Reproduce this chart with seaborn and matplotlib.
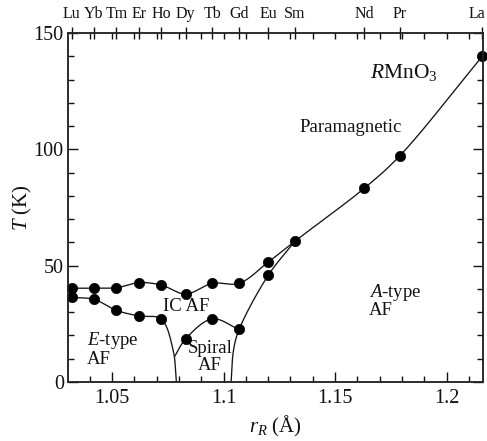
import numpy as np
import pandas as pd
import matplotlib
matplotlib.use("Agg")
import matplotlib.pyplot as plt
import matplotlib.transforms as mtransforms
from matplotlib.ticker import MultipleLocator, FixedLocator
import seaborn as sns

# Ionic radii of the rare-earth ions R (Å) and their names
elements = ["Lu", "Yb", "Tm", "Er", "Ho", "Dy", "Tb", "Gd", "Eu", "Sm", "Nd", "Pr", "La"]
radii = [1.032, 1.042, 1.052, 1.062, 1.072, 1.083, 1.095, 1.107, 1.120, 1.132, 1.163, 1.179, 1.216]

# Néel temperature (paramagnetic -> AF), one value per R
t_neel = [40.3, 40.3, 40.5, 42.7, 41.7, 37.8, 42.4, 42.4, 51.5, 60.5, 83.2, 97.2, 140.0]

# E-type lock-in transition (Lu..Ho) and its boundary down to T = 0
lock_r = [1.032, 1.042, 1.052, 1.062, 1.072]
lock_T = [36.4, 35.5, 30.8, 28.4, 27.1]
lock_tail_r = [1.0774, 1.0789]
lock_tail_T = [13.8, 0.0]

# Spiral AF transition (Dy, Tb, Gd)
spiral_r = [1.083, 1.095, 1.107]
spiral_T = [18.5, 27.1, 22.6]
spiral_start_r = [1.0781]
spiral_start_T = [11.0]

# A-type boundary from T = 0 through Gd, Eu up to Sm
atype_r = [1.107, 1.120]
atype_T = [22.6, 45.8]
atype_base_r = [1.1034, 1.1045]
atype_base_T = [0.0, 13.8]

XLIM = (1.0303, 1.2163)
YLIM = (0, 150)


def smooth(xs, ys, n=40):
    """Centripetal Catmull-Rom curve through the given points."""
    sx = 415.0 / (XLIM[1] - XLIM[0])
    sy = 349.0 / (YLIM[1] - YLIM[0])
    P = np.column_stack([(np.asarray(xs) - XLIM[0]) * sx, np.asarray(ys) * sy])
    P = np.vstack([2 * P[0] - P[1], P, 2 * P[-1] - P[-2]])
    segs = []
    for i in range(1, len(P) - 2):
        p0, p1, p2, p3 = P[i - 1:i + 3]
        t0 = 0.0
        t1 = t0 + np.linalg.norm(p1 - p0) ** 0.5
        t2 = t1 + np.linalg.norm(p2 - p1) ** 0.5
        t3 = t2 + np.linalg.norm(p3 - p2) ** 0.5
        t = np.linspace(t1, t2, n)[:, None]
        a1 = (t1 - t) / (t1 - t0) * p0 + (t - t0) / (t1 - t0) * p1
        a2 = (t2 - t) / (t2 - t1) * p1 + (t - t1) / (t2 - t1) * p2
        a3 = (t3 - t) / (t3 - t2) * p2 + (t - t2) / (t3 - t2) * p3
        b1 = (t2 - t) / (t2 - t0) * a1 + (t - t0) / (t2 - t0) * a2
        b2 = (t3 - t) / (t3 - t1) * a2 + (t - t1) / (t3 - t1) * a3
        c = (t2 - t) / (t2 - t1) * b1 + (t - t1) / (t2 - t1) * b2
        segs.append(c if i == 1 else c[1:])
    C = np.vstack(segs)
    return C[:, 0] / sx + XLIM[0], C[:, 1] / sy


sns.set_style("ticks")
plt.rcParams.update({
    "font.family": ["Liberation Serif", "DejaVu Serif"],
    "mathtext.fontset": "custom",
    "mathtext.rm": "Liberation Serif",
    "mathtext.it": "Liberation Serif:italic",
    "mathtext.bf": "Liberation Serif:bold",
    "axes.linewidth": 1.1,
    "text.color": "#111111",
    "axes.labelcolor": "#111111",
    "xtick.color": "#111111",
    "ytick.color": "#111111",
})

fig = plt.figure(figsize=(4.87, 4.41), dpi=100)
ax = fig.add_axes([0.1396, 0.1338, 0.8522, 0.7914])

line_kw = dict(color="#151515", linewidth=0.95, sort=False, estimator=None, ax=ax)

curves = [
    (radii, t_neel),
    (lock_r + lock_tail_r, lock_T + lock_tail_T),
    (spiral_start_r + spiral_r, spiral_start_T + spiral_T),
    (atype_base_r + atype_r + [radii[9]], atype_base_T + atype_T + [t_neel[9]]),
]
for xs, ys in curves:
    cx, cy = smooth(xs, ys)
    sns.lineplot(x=cx, y=cy, **line_kw)

pts = pd.DataFrame({
    "r": radii + lock_r + spiral_r + atype_r[1:],
    "T": t_neel + lock_T + spiral_T + atype_T[1:],
})
sns.scatterplot(data=pts, x="r", y="T", s=55, color="black", edgecolor="black",
                linewidth=0.5, zorder=4, clip_on=False, ax=ax)

ax.set_xlim(*XLIM)
ax.set_ylim(*YLIM)
ax.set_xticks([1.05, 1.10, 1.15, 1.20])
ax.set_xticklabels(["1.05", "1.1", "1.15", "1.2"])
ax.xaxis.set_minor_locator(MultipleLocator(0.01))
ax.set_yticks([0, 50, 100, 150])
ax.yaxis.set_minor_locator(MultipleLocator(10))
ax.tick_params(which="both", direction="in", top=False, right=True, width=1.0,
               labelsize=14.5, colors="#111111")
ax.tick_params(which="major", length=7)
ax.tick_params(which="minor", length=4)
ax.tick_params(axis="x", which="major", pad=5)
ax.tick_params(axis="y", which="major", pad=3)

ax.set_xlabel(r"$r_R$ (Å)", fontsize=15, labelpad=4)
ax.set_ylabel(r"$T$ (K)", fontsize=15)
ax.yaxis.set_label_coords(-0.083, 0.5)

# Top axis: rare-earth ions at their radii
top = ax.twiny()
top.set_xlim(*XLIM)
top.xaxis.set_major_locator(FixedLocator(radii))
top.set_xticklabels(elements)
top.xaxis.set_minor_locator(MultipleLocator(0.01))
top.tick_params(which="major", direction="inout", length=8, width=1.0,
                labelsize=11.5, pad=4, colors="#111111")
top.tick_params(which="minor", direction="in", length=4, width=1.0)
for s in top.spines.values():
    s.set_linewidth(1.1)
# keep the last ion name inside the canvas
last = top.get_xticklabels()[-1]
last.set_transform(last.get_transform() +
                   mtransforms.ScaledTranslation(-5 / 100, 0, fig.dpi_scale_trans))

# Phase labels
txt = dict(fontsize=13.5, color="#111111")
ax.text(1.1655, 130.5, r"$R$MnO$_3$", fontsize=15.5, color="#111111")
ax.text(1.1339, 109.5, "Paramagnetic", va="center", **txt)
ax.text(1.0727, 32.4, "IC AF", va="center", **txt)
ax.text(1.0388, 14.2, r"$E$-type" + "\nAF", va="center", linespacing=0.95, **txt)
ax.text(1.0940, 10.8, "Spiral\nAF", va="center", ha="center", linespacing=0.95, **txt)
ax.text(1.1651, 35.0, r"$A$-type" + "\nAF", va="center", linespacing=0.95, **txt)

fig.savefig("out.png", dpi=100)
